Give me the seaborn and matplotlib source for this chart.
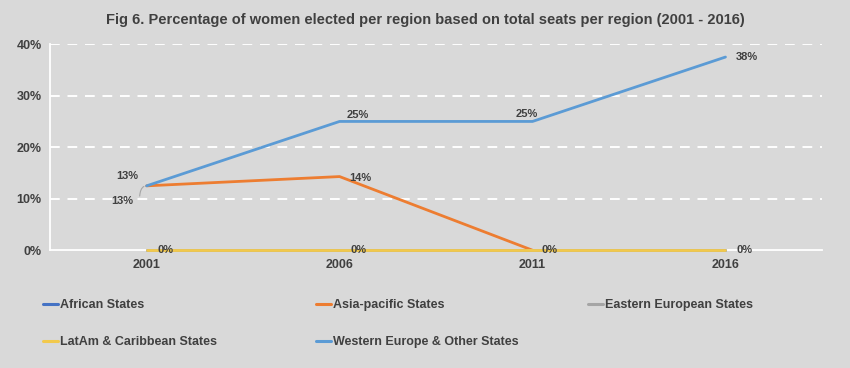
import pandas as pd
import numpy as np
import matplotlib.pyplot as plt
import seaborn as sns
from matplotlib.lines import Line2D

# Values (percent of seats won by women)
years = ["2001", "2006", "2011", "2016"]
african = [0, 0, 0, 0]
asia_pacific = [12.5, 14.3, 0, np.nan]
eastern_europe = [0, 0, 0, 0]
latam = [0, 0, 0, 0]
western = [12.5, 25, 25, 37.5]
y_ticks = [0, 10, 20, 30, 40]

series = {
    "African States": african,
    "Asia-pacific States": asia_pacific,
    "Eastern European States": eastern_europe,
    "LatAm & Caribbean States": latam,
    "Western Europe & Other States": western,
}
colors = {
    "African States": "#4472C4",
    "Asia-pacific States": "#ED7D31",
    "Eastern European States": "#A5A5A5",
    "LatAm & Caribbean States": "#F2C94C",
    "Western Europe & Other States": "#5B9BD5",
}

rows = []
for name, vals in series.items():
    for i, v in enumerate(vals):
        rows.append({"region": name, "pos": i, "year": years[i], "pct": v})
df = pd.DataFrame(rows)

sns.set_theme(style="white")
plt.rcParams["font.family"] = ["Liberation Sans Narrow", "Liberation Sans", "DejaVu Sans"]
text_col = "#404040"
bg = "#d9d9d9"

fig = plt.figure(figsize=(8.5, 3.68), dpi=100, facecolor=bg)
ax = fig.add_axes([0.059, 0.32, 0.908, 0.56], facecolor=bg)

for name in series:
    sub = df[df["region"] == name].dropna()
    sns.lineplot(data=sub, x="pos", y="pct", ax=ax, color=colors[name],
                 linewidth=2.0, legend=False, sort=False)
for ln in ax.get_lines():
    ln.set_clip_on(False)
    ln.set_zorder(4)

ax.set_xlim(-0.5, 3.5)
ax.set_ylim(0, 40)
ax.set_yticks(y_ticks)
ax.set_yticklabels([f"{t}%" for t in y_ticks])
ax.set_xticks(range(len(years)))
ax.set_xticklabels(years)
ax.set_xlabel("")
ax.set_ylabel("")
ax.tick_params(length=0, labelsize=9, labelcolor=text_col, pad=6)
for lab in ax.get_xticklabels() + ax.get_yticklabels():
    lab.set_fontweight("bold")

for t in y_ticks[1:]:
    ax.axhline(t, color="white", linewidth=1.4, linestyle=(0, (5, 4)), zorder=0)
for s in ["top", "right"]:
    ax.spines[s].set_visible(False)
for s in ["left", "bottom"]:
    ax.spines[s].set_color("white")
    ax.spines[s].set_linewidth(1.3)
    ax.spines[s].set_zorder(1)

# data labels
def label(x, y, txt, dx, dy):
    ax.annotate(txt, (x, y), xytext=(dx, dy), textcoords="offset pixels",
                ha="center", va="center", fontsize=8, fontweight="bold",
                color=text_col, zorder=6, annotation_clip=False)

label(0, western[0], "13%", -19, 10)
label(1, western[1], "25%", 18, 6)
label(2, western[2], "25%", -6, 7)
label(3, western[3], "38%", 21, 0)
label(0, asia_pacific[0], "13%", -24, -15)
label(1, asia_pacific[1], "14%", 21, -1)
for i in range(len(years)):
    label(i, latam[i], "0%", 19 if i != 2 else 17, 0)

# leader line for the lower 2001 label
ax.annotate("", xy=(0, asia_pacific[0]), xytext=(-7, -13), textcoords="offset pixels",
            arrowprops=dict(arrowstyle="-", color="#A5A5A5", lw=0.8,
                            connectionstyle="angle3,angleA=90,angleB=0"))

fig.suptitle("Fig 6. Percentage of women elected per region based on total seats per region (2001 - 2016)",
             x=0.5, y=0.965, fontsize=10.5, fontweight="bold", color=text_col)

# legend, three columns placed like the reference
cols = [["African States", "LatAm & Caribbean States"],
        ["Asia-pacific States", "Western Europe & Other States"],
        ["Eastern European States"]]
xs = [0.045, 0.366, 0.686]
for names, x0 in zip(cols, xs):
    handles = [Line2D([0], [0], color=colors[n], lw=2.2) for n in names]
    leg = fig.legend(handles, names, loc="upper left", bbox_to_anchor=(x0, 0.2),
                     frameon=False, fontsize=9, handlelength=1.2, handletextpad=0.15,
                     labelspacing=2.0, borderaxespad=0)
    for t in leg.get_texts():
        t.set_fontweight("bold")
        t.set_color(text_col)

fig.savefig("out.png", dpi=100, facecolor=bg)
